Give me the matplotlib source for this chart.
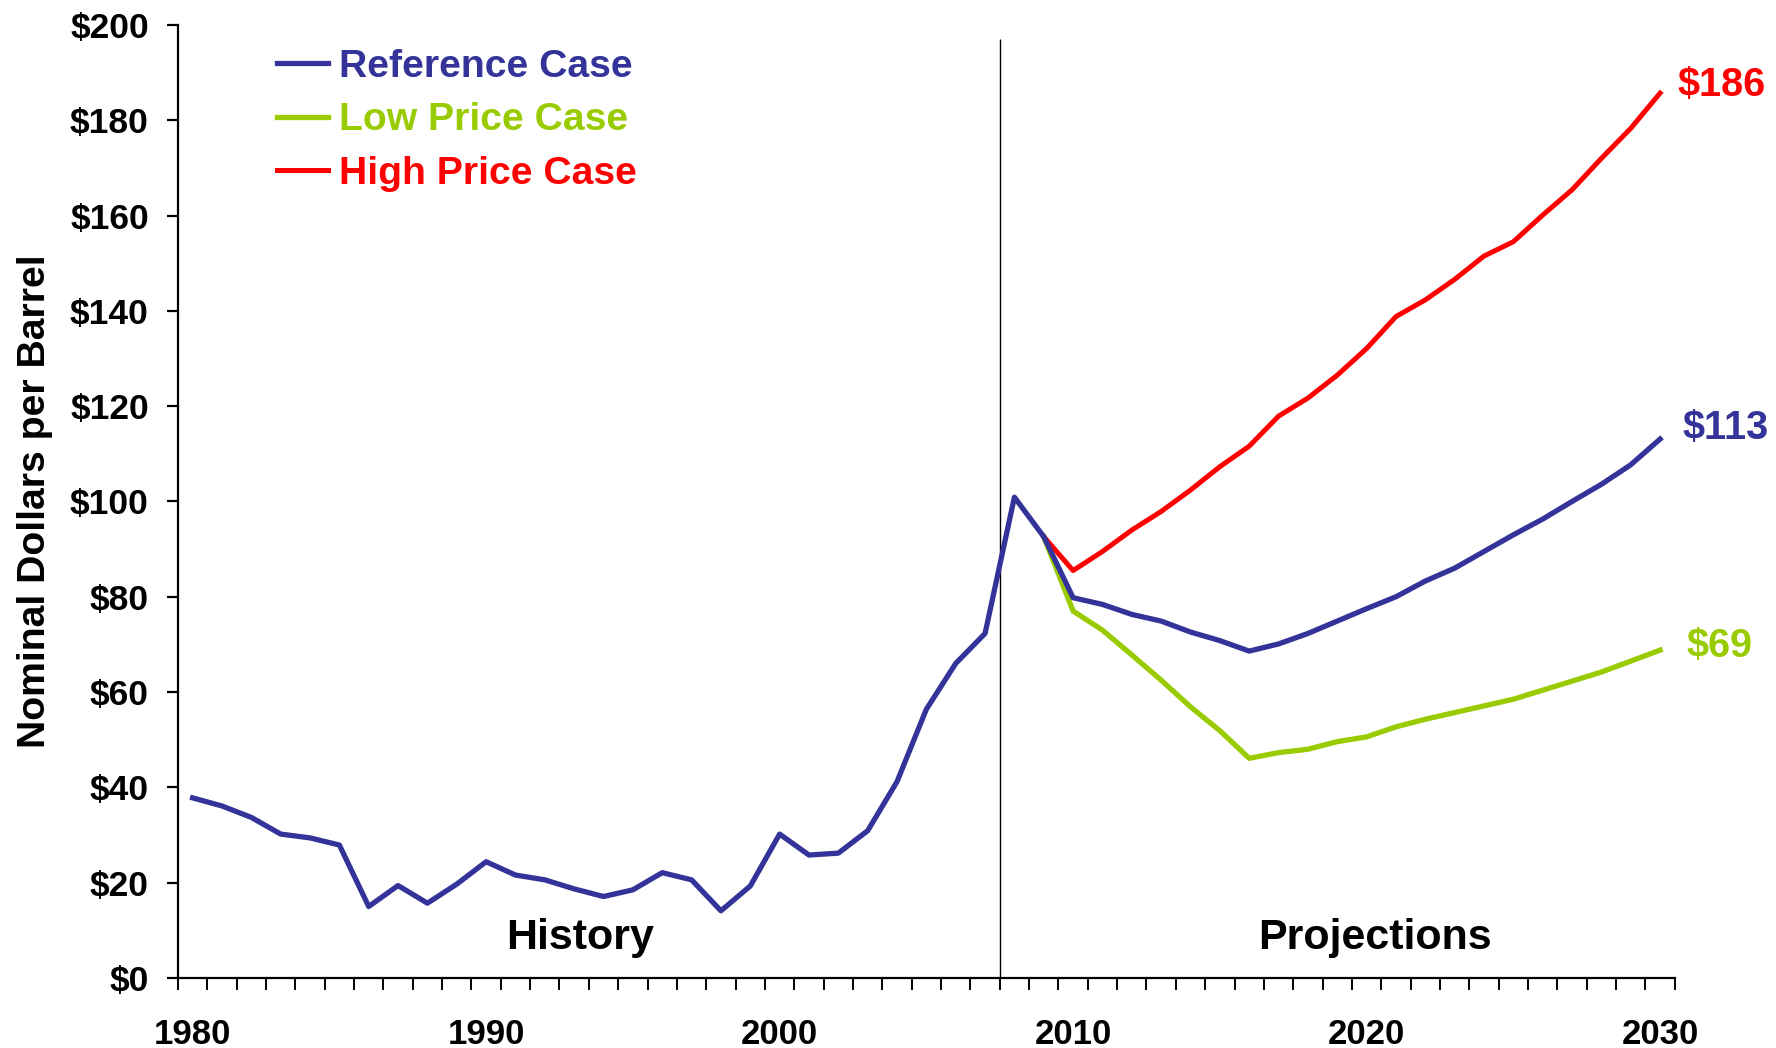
import matplotlib
matplotlib.use("Agg")
import matplotlib.pyplot as plt
from matplotlib.ticker import MultipleLocator, FixedLocator

plt.rcParams['font.family'] = ['Liberation Sans', 'DejaVu Sans']
plt.rcParams['font.weight'] = 'bold'

# nominal dollars per barrel
years = list(range(1980, 2031))
reference = [37.8, 36.1, 33.7, 30.2, 29.4, 27.9, 15.0, 19.4, 15.7, 19.7,
             24.4, 21.6, 20.6, 18.7, 17.1, 18.5, 22.1, 20.6, 14.1, 19.3,
             30.2, 25.8, 26.2, 30.9, 41.2, 56.4, 66.0, 72.3, 100.9, 92.6,
             79.8, 78.4, 76.3, 74.9, 72.6, 70.8, 68.6, 70.1, 72.3, 74.9,
             77.5, 80.0, 83.3, 86.0, 89.5, 93.0, 96.3, 100.0, 103.6, 107.7,
             113.1]
proj_years = list(range(2009, 2031))
low_price = [92.6, 77.0, 73.0, 67.8, 62.5, 56.9, 51.9, 46.1, 47.3, 48.0,
             49.6, 50.6, 52.7, 54.3, 55.7, 57.1, 58.5, 60.4, 62.3, 64.2,
             66.5, 68.8]
high_price = [92.6, 85.5, 89.5, 94.0, 97.9, 102.4, 107.3, 111.6, 117.9, 121.7,
              126.5, 132.1, 138.8, 142.3, 146.6, 151.5, 154.5, 160.1, 165.4,
              172.0, 178.3, 185.7]
end_labels = ['$186', '$113', '$69']
ytick_vals = list(range(0, 201, 20))
ytick_labels = ['$' + str(v) for v in ytick_vals]
xtick_vals = [1980, 1990, 2000, 2010, 2020, 2030]

c_ref = '#333399'
c_low = '#99CC00'
c_high = '#FF0000'

fig = plt.figure(figsize=(17.76, 10.48), dpi=100)
ax = fig.add_axes([0.1002, 0.0668, 0.8428, 0.9094])

ax.plot(years, reference, color=c_ref, lw=3.8, label='Reference Case', zorder=4)
ax.plot(proj_years, low_price, color=c_low, lw=3.8, label='Low Price Case', zorder=3)
ax.plot(proj_years, high_price, color=c_high, lw=3.6, label='High Price Case', zorder=3)

# history / projections divider
ax.vlines(2007.5, 0, 197, color='black', lw=1.0, zorder=2)

ax.set_xlim(1979.5, 2030.5)
ax.set_ylim(0, 200)

ax.spines['top'].set_visible(False)
ax.spines['right'].set_visible(False)
ax.spines['left'].set_linewidth(1.6)
ax.spines['bottom'].set_linewidth(1.6)

ax.set_yticks(ytick_vals)
ax.set_yticklabels(ytick_labels)
ax.tick_params(axis='y', direction='out', length=8, width=1.6, pad=13, labelsize=25.5)

ax.xaxis.set_major_locator(FixedLocator(xtick_vals))
ax.set_xticklabels([str(v) for v in xtick_vals])
ax.xaxis.set_minor_locator(MultipleLocator(1, offset=0.5))
ax.tick_params(axis='x', which='major', length=0, pad=29, labelsize=25)
ax.tick_params(axis='x', which='minor', direction='out', length=8.5, width=1.4)

ax.set_ylabel('Nominal Dollars per Barrel', fontsize=28.2, fontweight='bold', labelpad=12)

ax.text(1993.2, 8.3, 'History', fontsize=31, fontweight='bold', ha='center', va='center')
ax.text(2020.3, 8.3, 'Projections', fontsize=31, fontweight='bold', ha='center', va='center')

ax.text(2030.6, high_price[-1] + 1.6, end_labels[0], color=c_high, fontsize=28.5,
        fontweight='bold', ha='left', va='center', clip_on=False)
ax.text(2030.75, reference[-1] + 2.4, end_labels[1], color=c_ref, fontsize=28.5,
        fontweight='bold', ha='left', va='center', clip_on=False)
ax.text(2030.9, low_price[-1] + 0.9, end_labels[2], color=c_low, fontsize=28.5,
        fontweight='bold', ha='left', va='center', clip_on=False)

leg = ax.legend(loc='upper left', bbox_to_anchor=(0.066, 0.975), frameon=False,
                fontsize=28.2, handlelength=1.3, handletextpad=0.28, labelspacing=0.45,
                borderpad=0, borderaxespad=0, labelcolor='linecolor')
for t in leg.get_texts():
    t.set_fontweight('bold')

fig.savefig('out.png', dpi=100)
